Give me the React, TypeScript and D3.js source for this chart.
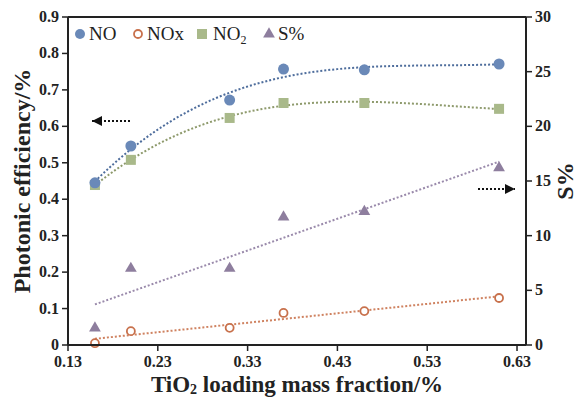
import React from "react";
import * as d3 from "d3";

const width = 582;
const height = 399;
const margin = {left: 68, right: 56, top: 17, bottom: 54};

// TiO2 loading (x) and the four series
const loading = [0.16, 0.20, 0.31, 0.37, 0.46, 0.61];
const noValues = [0.445, 0.546, 0.672, 0.757, 0.755, 0.771];
const noxValues = [0.005, 0.038, 0.047, 0.088, 0.093, 0.129];
const no2Values = [0.439, 0.508, 0.623, 0.664, 0.664, 0.648];
const sValues = [1.55, 7.0, 7.0, 11.7, 12.2, 16.2];

const xTicks = [0.13, 0.23, 0.33, 0.43, 0.53, 0.63];
const leftTicks = [0, 0.1, 0.2, 0.3, 0.4, 0.5, 0.6, 0.7, 0.8, 0.9];
const rightTicks = [0, 5, 10, 15, 20, 25, 30];

const blue = "#6a89b8";
const orange = "#c8714c";
const green = "#a9b98a";
const purple = "#8e7e9e";

// least squares polynomial fit, returns coefficients c0..cn
function polyfit(xs: number[], ys: number[], deg: number) {
    const n = deg + 1;
    const A: number[][] = [];
    for (let i = 0; i < n; i++) {
        A.push([]);
        for (let j = 0; j < n; j++) {
            A[i].push(d3.sum(xs, x => Math.pow(x, i + j)));
        }
        A[i].push(d3.sum(xs, (x, k) => ys[k] * Math.pow(x, i)));
    }
    for (let i = 0; i < n; i++) {
        let p = i;
        for (let r = i + 1; r < n; r++) if (Math.abs(A[r][i]) > Math.abs(A[p][i])) p = r;
        [A[i], A[p]] = [A[p], A[i]];
        for (let r = 0; r < n; r++) {
            if (r === i) continue;
            const f = A[r][i] / A[i][i];
            for (let c = i; c <= n; c++) A[r][c] -= f * A[i][c];
        }
    }
    return A.map((row, i) => row[n] / row[i]);
}

function trend(xs: number[], ys: number[], deg: number) {
    const c = polyfit(xs, ys, deg);
    const lo = d3.min(xs) as number;
    const hi = d3.max(xs) as number;
    return d3.range(0, 61).map(i => {
        const x = lo + (hi - lo) * i / 60;
        return [x, c.reduce((s, ci, k) => s + ci * Math.pow(x, k), 0)] as [number, number];
    });
}

function App() {
    const x = d3.scaleLinear().domain([0.13, 0.64]).range([margin.left, width - margin.right]);
    const yL = d3.scaleLinear().domain([0, 0.9]).range([height - margin.bottom, margin.top]);
    const yR = d3.scaleLinear().domain([0, 30]).range([height - margin.bottom, margin.top]);

    const lineL = d3.line<[number, number]>().x(d => x(d[0])).y(d => yL(d[1]));
    const lineR = d3.line<[number, number]>().x(d => x(d[0])).y(d => yR(d[1]));

    const x0 = margin.left;
    const x1 = width - margin.right;
    const y0 = height - margin.bottom;
    const y1 = margin.top;
    const font = "Liberation Serif, Times New Roman, Times, serif";
    const tri = d3.symbol(d3.symbolTriangle, 60)();

    return (
        <svg width={width} height={height} style={{position: "absolute", left: 0, top: 0, fontFamily: font}}>
            <rect width={width} height={height} fill="white"/>
            <defs>
                <marker id="ah" viewBox="0 0 10 10" refX="10" refY="5" markerWidth="5" markerHeight="5" orient="auto-start-reverse">
                    <path d="M0,0 L10,5 L0,10 z" fill="#111"/>
                </marker>
            </defs>

            {/* trend lines */}
            <g fill="none" strokeWidth={2} strokeDasharray="2,2">
                <path d={lineL(trend(loading, noValues, 3)) || ""} stroke="#4e6d9c"/>
                <path d={lineL(trend(loading, no2Values, 3)) || ""} stroke="#8e9a6c"/>
                <path d={lineL(trend(loading, noxValues, 1)) || ""} stroke="#cf8260"/>
                <path d={lineR(trend(loading, sValues, 1)) || ""} stroke="#9a8aab"/>
            </g>

            {/* markers */}
            {loading.map((d, i) => (
                <g key={i}>
                    <path d={tri || ""} transform={`translate(${x(d)},${yR(sValues[i])})`} fill={purple}/>
                    <rect x={x(d) - 5} y={yL(no2Values[i]) - 5} width={10} height={10} fill={green}/>
                    <circle cx={x(d)} cy={yL(noValues[i])} r={5.5} fill={blue}/>
                    <circle cx={x(d)} cy={yL(noxValues[i])} r={4} fill="white" stroke={orange} strokeWidth={1.8}/>
                </g>
            ))}

            {/* frame and axes */}
            <line x1={x0} x2={x1} y1={y1} y2={y1} stroke="#222" strokeWidth={2}/>
            <line x1={x0} x2={x1} y1={y0} y2={y0} stroke="#222" strokeWidth={2}/>
            <line x1={x0} x2={x0} y1={y1} y2={y0} stroke="#222" strokeWidth={2}/>
            <line x1={x1} x2={x1} y1={y1} y2={y0} stroke="#222" strokeWidth={2}/>

            <g fontSize={16} fontWeight="bold" fill="#222">
                {xTicks.map(t => (
                    <g key={t}>
                        <line x1={x(t)} x2={x(t)} y1={y0} y2={y0 + 6} stroke="#222" strokeWidth={1.5}/>
                        <text x={x(t)} y={y0 + 22} textAnchor="middle">{t.toFixed(2)}</text>
                    </g>
                ))}
                {leftTicks.map(t => (
                    <g key={t}>
                        <line x1={x0 - 6} x2={x0} y1={yL(t)} y2={yL(t)} stroke="#222" strokeWidth={1.5}/>
                        <text x={x0 - 9} y={yL(t) + 5} textAnchor="end">{t === 0 ? "0" : t.toFixed(1)}</text>
                    </g>
                ))}
                {rightTicks.map(t => (
                    <g key={t}>
                        <line x1={x1} x2={x1 + 6} y1={yR(t)} y2={yR(t)} stroke="#222" strokeWidth={1.5}/>
                        <text x={x1 + 9} y={yR(t) + 5} textAnchor="start">{t}</text>
                    </g>
                ))}
            </g>

            {/* axis titles */}
            <g fontWeight="bold" fill="#222" fontSize={24}>
                <text x={(x0 + x1) / 2} y={392} fontSize={23} textAnchor="middle">
                    TiO<tspan fontSize={14} dy={2}>2</tspan><tspan dy={-2}> loading mass fraction/%</tspan>
                </text>
                <text transform={`translate(30,${(y0 + y1) / 2}) rotate(-90)`} textAnchor="middle">Photonic efficiency/%</text>
                <text transform={`translate(573,${(y0 + y1) / 2}) rotate(-90)`} textAnchor="middle">S%</text>
            </g>

            {/* direction arrows */}
            <line x1={130} x2={92} y1={121} y2={121} stroke="#111" strokeWidth={2} strokeDasharray="2,2" markerEnd="url(#ah)"/>
            <line x1={478} x2={515} y1={189} y2={189} stroke="#111" strokeWidth={2} strokeDasharray="2,2" markerEnd="url(#ah)"/>

            {/* legend */}
            <g fontSize={19} fill="#222">
                <circle cx={80} cy={34} r={5} fill={blue}/>
                <text x={89} y={40}>NO</text>
                <circle cx={138} cy={34} r={4} fill="white" stroke={orange} strokeWidth={1.8}/>
                <text x={147} y={40}>NOx</text>
                <rect x={197} y={29} width={10} height={10} fill={green}/>
                <text x={213} y={40}>NO<tspan fontSize={12} dy={4}>2</tspan></text>
                <path d={tri || ""} transform="translate(269,34)" fill={purple}/>
                <text x={278} y={40}>S%</text>
            </g>
        </svg>
    );
}

export default App;
